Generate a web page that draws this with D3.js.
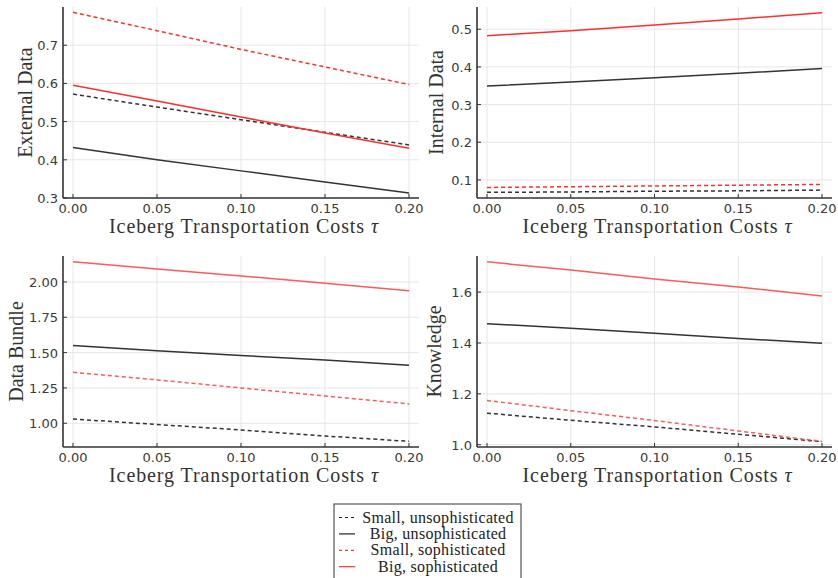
<!DOCTYPE html>
<html>
<head>
<meta charset="utf-8">
<script src="https://cdn.jsdelivr.net/npm/d3@7"></script>
<style>
  body { margin: 0; background: #fff; }
  svg { display: block; }
  .tick-label { font-family: "DejaVu Sans", sans-serif; font-size: 13px; fill: #3a3a3a; }
  .axis-title { font-family: "Liberation Serif", serif; font-size: 20px; fill: #333; }
  .legend-text { font-family: "Liberation Serif", serif; font-size: 16px; fill: #222; letter-spacing: 0.3px; }
</style>
</head>
<body>
<script>

// x values (iceberg transportation cost tau)
var taus = [0, 0.05, 0.10, 0.15, 0.20];
var xTicks = [0, 0.05, 0.10, 0.15, 0.20];

// External Data
var extSmallUnsoph = [0.572, 0.538, 0.505, 0.472, 0.439];
var extBigUnsoph   = [0.432, 0.400, 0.371, 0.342, 0.313];
var extSmallSoph   = [0.786, 0.738, 0.689, 0.643, 0.597];
var extBigSoph     = [0.595, 0.554, 0.512, 0.470, 0.430];

// Internal Data
var intSmallUnsoph = [0.067, 0.068, 0.070, 0.071, 0.073];
var intBigUnsoph   = [0.349, 0.360, 0.371, 0.383, 0.396];
var intSmallSoph   = [0.080, 0.082, 0.084, 0.086, 0.088];
var intBigSoph     = [0.483, 0.496, 0.511, 0.527, 0.544];

// Data Bundle
var bunSmallUnsoph = [1.030, 0.991, 0.953, 0.910, 0.872];
var bunBigUnsoph   = [1.550, 1.514, 1.480, 1.448, 1.410];
var bunSmallSoph   = [1.361, 1.307, 1.250, 1.193, 1.137];
var bunBigSoph     = [2.144, 2.092, 2.043, 1.991, 1.938];

// Knowledge
var knoSmallUnsoph = [1.124, 1.096, 1.070, 1.041, 1.012];
var knoBigUnsoph   = [1.476, 1.458, 1.438, 1.418, 1.399];
var knoSmallSoph   = [1.174, 1.134, 1.095, 1.054, 1.013];
var knoBigSoph     = [1.719, 1.687, 1.652, 1.620, 1.585];

var seriesNames = ["Small, unsophisticated", "Big, unsophisticated", "Small, sophisticated", "Big, sophisticated"];

var width = 838, height = 578;

var svg = d3.select("body").append("svg")
  .attr("width", width)
  .attr("height", height);

var styles = [
  { color: "#333", dash: "4,3" },
  { color: "#333", dash: null },
  { color: "#ff3b3b", dash: "4,3" },
  { color: "#ff3b3b", dash: null }
];

var panels = [
  { title: "External Data", left: 63, right: 419, top: 7, bottom: 198, ydom: [0.3, 0.8],
    yticks: [0.3, 0.4, 0.5, 0.6, 0.7], fmt: ".1f", titleX: 25,
    series: [extSmallUnsoph, extBigUnsoph, extSmallSoph, extBigSoph], red: "#ff2f2f" },
  { title: "Internal Data", left: 477, right: 832, top: 7, bottom: 198, ydom: [0.052, 0.559],
    yticks: [0.1, 0.2, 0.3, 0.4, 0.5], fmt: ".1f", titleX: 436,
    series: [intSmallUnsoph, intBigUnsoph, intSmallSoph, intBigSoph], red: "#ff2f2f" },
  { title: "Data Bundle", left: 63, right: 419, top: 256, bottom: 447, ydom: [0.832, 2.184],
    yticks: [1.0, 1.25, 1.5, 1.75, 2.0], fmt: ".2f", titleX: 16,
    series: [bunSmallUnsoph, bunBigUnsoph, bunSmallSoph, bunBigSoph], red: "#ff5a5a" },
  { title: "Knowledge", left: 477, right: 832, top: 256, bottom: 447, ydom: [0.991, 1.742],
    yticks: [1.0, 1.2, 1.4, 1.6], fmt: ".1f", titleX: 434,
    series: [knoSmallUnsoph, knoBigUnsoph, knoSmallSoph, knoBigSoph], red: "#ff5a5a" }
];

panels.forEach(function(p) {
  var x = d3.scaleLinear().domain([0, 0.2]).range([p.left + 10, p.right - 10]);
  var y = d3.scaleLinear().domain(p.ydom).range([p.bottom, p.top]);

  var g = svg.append("g");

  // grid
  g.selectAll(".vgrid").data(xTicks).enter().append("line")
    .attr("x1", function(d) { return x(d); }).attr("x2", function(d) { return x(d); })
    .attr("y1", p.top).attr("y2", p.bottom)
    .attr("stroke", "#e6e6e6").attr("stroke-width", 1);
  g.selectAll(".hgrid").data(p.yticks).enter().append("line")
    .attr("x1", p.left).attr("x2", p.right)
    .attr("y1", function(d) { return y(d); }).attr("y2", function(d) { return y(d); })
    .attr("stroke", "#e6e6e6").attr("stroke-width", 1);

  // series
  var line = d3.line()
    .x(function(d, i) { return x(taus[i]); })
    .y(function(d) { return y(d); });

  p.series.forEach(function(s, i) {
    var st = styles[i];
    g.append("path")
      .datum(s)
      .attr("d", line)
      .attr("fill", "none")
      .attr("stroke", i >= 2 ? p.red : st.color)
      .attr("stroke-width", 1.5)
      .attr("stroke-dasharray", st.dash);
  });

  // spines
  g.append("line").attr("x1", p.left).attr("x2", p.left).attr("y1", p.top).attr("y2", p.bottom)
    .attr("stroke", "#333").attr("stroke-width", 1.6);
  g.append("line").attr("x1", p.left).attr("x2", p.right).attr("y1", p.bottom).attr("y2", p.bottom)
    .attr("stroke", "#333").attr("stroke-width", 1.6);

  // tick marks
  g.selectAll(".xt").data(xTicks).enter().append("line")
    .attr("x1", function(d) { return x(d); }).attr("x2", function(d) { return x(d); })
    .attr("y1", p.bottom).attr("y2", p.bottom - 4)
    .attr("stroke", "#333").attr("stroke-width", 1);
  g.selectAll(".yt").data(p.yticks).enter().append("line")
    .attr("x1", p.left).attr("x2", p.left + 4)
    .attr("y1", function(d) { return y(d); }).attr("y2", function(d) { return y(d); })
    .attr("stroke", "#333").attr("stroke-width", 1);

  // tick labels
  g.selectAll(".xl").data(xTicks).enter().append("text")
    .attr("class", "tick-label")
    .attr("x", function(d) { return x(d); })
    .attr("y", p.bottom + 15)
    .attr("text-anchor", "middle")
    .text(d3.format(".2f"));
  g.selectAll(".yl").data(p.yticks).enter().append("text")
    .attr("class", "tick-label")
    .attr("x", p.left - 5)
    .attr("y", function(d) { return y(d) + 5; })
    .attr("text-anchor", "end")
    .text(d3.format(p.fmt));

  // axis titles
  var xt = g.append("text")
    .attr("class", "axis-title")
    .attr("x", (p.left + p.right) / 2 + 3)
    .attr("y", p.bottom + 35)
    .attr("text-anchor", "middle")
    .style("letter-spacing", "0.9px");
  xt.append("tspan").text("Iceberg Transportation Costs ");
  xt.append("tspan").attr("font-style", "italic").text("\u03C4");

  g.append("text")
    .attr("class", "axis-title")
    .attr("transform", "translate(" + (p.titleX + 7) + "," + ((p.top + p.bottom) / 2) + ") rotate(-90)")
    .attr("text-anchor", "middle")
    .text(p.title);
});

// legend
var lg = svg.append("g").attr("transform", "translate(334,504)");
lg.append("rect")
  .attr("x", 0).attr("y", 0).attr("width", 187).attr("height", 80)
  .attr("fill", "#fff").attr("stroke", "#333").attr("stroke-width", 1);

seriesNames.forEach(function(name, i) {
  var cy = 13.5 + i * 16.4;
  var st = styles[i];
  lg.append("line")
    .attr("x1", 5).attr("x2", 21).attr("y1", cy).attr("y2", cy)
    .attr("stroke", i >= 2 ? "#ff3030" : "#222")
    .attr("stroke-width", 1.2)
    .attr("stroke-dasharray", st.dash ? "3,3" : null);
  lg.append("text")
    .attr("class", "legend-text")
    .attr("x", 104)
    .attr("y", cy + 5)
    .attr("text-anchor", "middle")
    .text(name);
});

</script>
</body>
</html>
